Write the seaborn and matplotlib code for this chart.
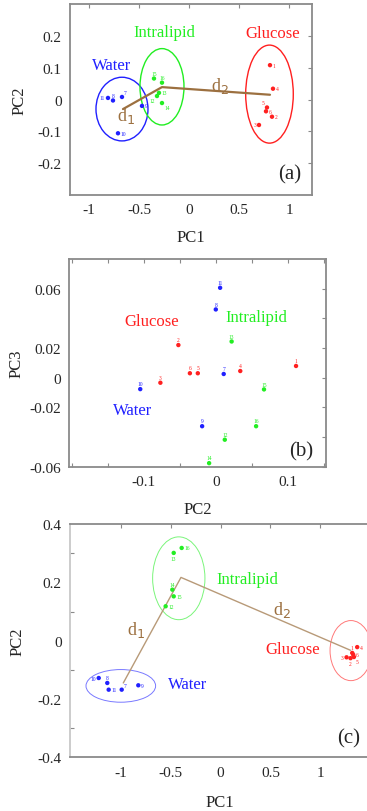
import pandas as pd
import numpy as np
import seaborn as sns
import matplotlib.pyplot as plt
from matplotlib.patches import Ellipse
from matplotlib.ticker import MultipleLocator

sns.set_style("white")
plt.rcParams['font.family'] = ['Liberation Serif', 'DejaVu Serif']

BLUE = "#2020ff"
GREEN = "#22ee22"
RED = "#ff2020"
BROWN = "#9c7040"

groups = ["Water", "Intralipid", "Glucose"]
palette = {"Water": BLUE, "Intralipid": GREEN, "Glucose": RED}

## sample numbers per group
water_ids = [7, 8, 9, 10, 11]
lipid_ids = [12, 13, 14, 15, 16]
glucose_ids = [1, 2, 3, 4, 5, 6]

# (a) PC1 vs PC2
a_water_x = [-0.67, -0.76, -0.47, -0.71, -0.81]
a_water_y = [0.008, -0.003, -0.02, -0.106, 0.005]
a_lipid_x = [-0.32, -0.30, -0.27, -0.35, -0.27]
a_lipid_y = [0.011, 0.021, -0.011, 0.066, 0.053]
a_glucose_x = [0.81, 0.83, 0.70, 0.84, 0.78, 0.77]
a_glucose_y = [0.108, -0.054, -0.080, 0.034, -0.025, -0.037]

# (b) PC2 vs PC3
b_water_x = [0.011, 0.0, -0.019, -0.105, 0.006]
b_water_y = [0.0025, 0.046, -0.0327, -0.0077, 0.0606]
b_lipid_x = [0.0125, 0.022, -0.0093, 0.067, 0.056]
b_lipid_y = [-0.0418, 0.0244, -0.0576, -0.0079, -0.0327]
b_glucose_x = [0.1115, -0.052, -0.077, 0.034, -0.025, -0.036]
b_glucose_y = [0.0079, 0.022, -0.0034, 0.0045, 0.003, 0.003]

# (c) PC1 vs PC2
c_water_x = [-0.995, -1.14, -0.828, -1.226, -1.126]
c_water_y = [-0.168, -0.145, -0.153, -0.128, -0.168]
c_lipid_x = [-0.553, -0.472, -0.486, -0.472, -0.392]
c_lipid_y = [0.118, 0.301, 0.175, 0.152, 0.318]
c_glucose_x = [1.323, 1.306, 1.266, 1.373, 1.34, 1.333]
c_glucose_y = [-0.042, -0.06, -0.057, -0.022, -0.056, -0.048]

# cluster ellipses: centre x, centre y, width, height (Water, Intralipid, Glucose)
a_ell = [(-0.67, -0.03, 0.52, 0.20), (-0.27, 0.04, 0.44, 0.24), (0.805, 0.017, 0.476, 0.308)]
c_ell = [(-1.004, -0.155, 0.70, 0.112), (-0.421, 0.214, 0.526, 0.284), (1.31, -0.034, 0.42, 0.206)]

# distance lines Water centre -> Intralipid centre -> Glucose centre
a_dline_x = [-0.66, -0.27, 0.81]
a_dline_y = [-0.03, 0.039, 0.015]
c_dline_x = [-0.979, -0.399, 1.306]
c_dline_y = [-0.145, 0.217, -0.033]

# which side of its dot each sample number sits
a_side = {7: "ne", 8: "n", 9: "e", 10: "e", 11: "w", 12: "sw", 13: "e", 14: "se",
          15: "n", 16: "n", 1: "e", 2: "e", 3: "w", 4: "e", 5: "nw", 6: "e"}
b_side = {k: "n" for k in range(1, 17)}
c_side = {7: "ne", 8: "n", 9: "e", 10: "w", 11: "e", 12: "e", 13: "s", 14: "n",
          15: "e", 16: "e", 1: "n", 2: "s", 3: "w", 4: "e", 5: "se", 6: "e"}
side_style = {
    "n": ((0, 2), "center", "bottom"), "s": ((0, -2), "center", "top"),
    "e": ((2, 0), "left", "center"), "w": ((-2, 0), "right", "center"),
    "ne": ((1.5, 1.5), "left", "bottom"), "nw": ((-1.5, 1.5), "right", "bottom"),
    "se": ((1.5, -1.5), "left", "top"), "sw": ((-1.5, -1.5), "right", "top"),
}


def make_df(wx, wy, lx, ly, gx, gy):
    return pd.DataFrame({
        "x": wx + lx + gx,
        "y": wy + ly + gy,
        "group": ["Water"] * len(wx) + ["Intralipid"] * len(lx) + ["Glucose"] * len(gx),
        "id": water_ids + lipid_ids + glucose_ids,
    })


df_a = make_df(a_water_x, a_water_y, a_lipid_x, a_lipid_y, a_glucose_x, a_glucose_y)
df_b = make_df(b_water_x, b_water_y, b_lipid_x, b_lipid_y, b_glucose_x, b_glucose_y)
df_c = make_df(c_water_x, c_water_y, c_lipid_x, c_lipid_y, c_glucose_x, c_glucose_y)

fig = plt.figure(figsize=(3.67, 8.12), dpi=100)
ax_a = fig.add_axes([0.1907, 0.7586, 0.6594, 0.2352])
ax_b = fig.add_axes([0.188, 0.424, 0.700, 0.2558])
ax_c = fig.add_axes([0.1907, 0.0661, 0.817, 0.2873])


def base_plot(ax, df, sides):
    sns.scatterplot(data=df, x="x", y="y", hue="group", palette=palette,
                    s=10, edgecolor="none", legend=False, ax=ax, zorder=3)
    for _, r in df.iterrows():
        off, ha, va = side_style[sides[r["id"]]]
        ax.annotate(str(r["id"]), (r["x"], r["y"]), xytext=off,
                    textcoords="offset points", fontsize=4.0,
                    color=palette[r["group"]], ha=ha, va=va)
    for s in ax.spines.values():
        s.set_color("#8a8a8a")
        s.set_linewidth(1.3)
    ax.tick_params(direction="in", length=3, width=0.8, color="#8a8a8a",
                   labelsize=11, top=True, right=True, pad=6)
    ax.set_facecolor("white")


# ---- (a)
base_plot(ax_a, df_a, a_side)
for (cx, cy, w, h), g in zip(a_ell, groups):
    ax_a.add_patch(Ellipse((cx, cy), w, h, fill=False, ec=palette[g], lw=1.0))
ax_a.plot(a_dline_x, a_dline_y, color=BROWN, lw=1.6, zorder=2)
ax_a.text(-0.63, -0.05, "d$_1$", color=BROWN, fontsize=13, ha="center", va="center")
ax_a.text(0.31, 0.046, "d$_2$", color=BROWN, fontsize=13, ha="center", va="center")
ax_a.text(-0.77, 0.108, "Water", color=BLUE, fontsize=12, ha="center", va="center")
ax_a.text(-0.25, 0.213, "Intralipid", color=GREEN, fontsize=12, ha="center", va="center")
ax_a.text(0.84, 0.208, "Glucose", color=RED, fontsize=12, ha="center", va="center")
ax_a.text(1.01, -0.232, "(a)", fontsize=15, ha="center", va="center")
ax_a.set_xlim(-1.19, 1.23)
ax_a.set_ylim(-0.3, 0.3)
ax_a.set_xticks([-1, -0.5, 0, 0.5, 1])
ax_a.set_xticklabels(["-1", "-0.5", "0", "0.5", "1"])
ax_a.set_yticks([-0.2, -0.1, 0, 0.1, 0.2])
ax_a.set_yticklabels(["-0.2", "-0.1", "0", "0.1", "0.2"])
ax_a.set_xlabel("PC1", fontsize=12, labelpad=9)
ax_a.set_ylabel("PC2", fontsize=12, labelpad=7)

# ---- (b)
base_plot(ax_b, df_b, b_side)
ax_b.text(-0.089, 0.0384, "Glucose", color=RED, fontsize=12, ha="center", va="center")
ax_b.text(0.0565, 0.041, "Intralipid", color=GREEN, fontsize=12, ha="center", va="center")
ax_b.text(-0.115, -0.0219, "Water", color=BLUE, fontsize=12, ha="center", va="center")
ax_b.text(0.119, -0.0495, "(b)", fontsize=15, ha="center", va="center")
ax_b.set_xlim(-0.204, 0.153)
ax_b.set_ylim(-0.06, 0.08)
ax_b.set_xticks([-0.1, 0, 0.1])
ax_b.set_xticklabels(["-0.1", "0", "0.1"])
ax_b.xaxis.set_minor_locator(MultipleLocator(0.05))
ax_b.set_yticks([-0.06, -0.04, -0.02, 0, 0.02, 0.04, 0.06])
ax_b.set_yticklabels(["-0.06", "", "-0.02", "0", "0.02", "", "0.06"])
ax_b.tick_params(which="minor", direction="in", length=3, width=0.8,
                 color="#8a8a8a", top=True, bottom=True)
ax_b.set_xlabel("PC2", fontsize=12, labelpad=9)
ax_b.set_ylabel("PC3", fontsize=12, labelpad=3)

# ---- (c)
base_plot(ax_c, df_c, c_side)
for (cx, cy, w, h), g in zip(c_ell, groups):
    ax_c.add_patch(Ellipse((cx, cy), w, h, fill=False, ec=palette[g], lw=0.7, alpha=0.6))
ax_c.plot(c_dline_x, c_dline_y, color="#b89a78", lw=1.0, zorder=2)
ax_c.text(-0.851, 0.041, "d$_1$", color=BROWN, fontsize=13, ha="center", va="center")
ax_c.text(0.613, 0.109, "d$_2$", color=BROWN, fontsize=13, ha="center", va="center")
ax_c.text(0.267, 0.212, "Intralipid", color=GREEN, fontsize=12, ha="center", va="center")
ax_c.text(0.723, -0.028, "Glucose", color=RED, fontsize=12, ha="center", va="center")
ax_c.text(-0.336, -0.148, "Water", color=BLUE, fontsize=12, ha="center", va="center")
ax_c.text(1.283, -0.334, "(c)", fontsize=15, ha="center", va="center")
ax_c.set_xlim(-1.515, 1.5)
ax_c.set_ylim(-0.4, 0.4)
ax_c.set_xticks([-1, -0.5, 0, 0.5, 1])
ax_c.set_xticklabels(["-1", "-0.5", "0", "0.5", "1"])
ax_c.set_yticks([-0.4, -0.2, 0, 0.2, 0.4])
ax_c.set_yticklabels(["-0.4", "-0.2", "0", "0.2", "0.4"])
ax_c.yaxis.set_minor_locator(MultipleLocator(0.1))
ax_c.tick_params(which="both", right=False)
ax_c.tick_params(which="minor", direction="in", length=3, width=0.8,
                 color="#8a8a8a", left=True)
ax_c.spines["left"].set_color("#c8c8c8")
ax_c.set_xlabel("PC1", fontsize=12, labelpad=11)
ax_c.set_ylabel("PC2", fontsize=12, labelpad=9)

fig.savefig("out.png", dpi=100)
